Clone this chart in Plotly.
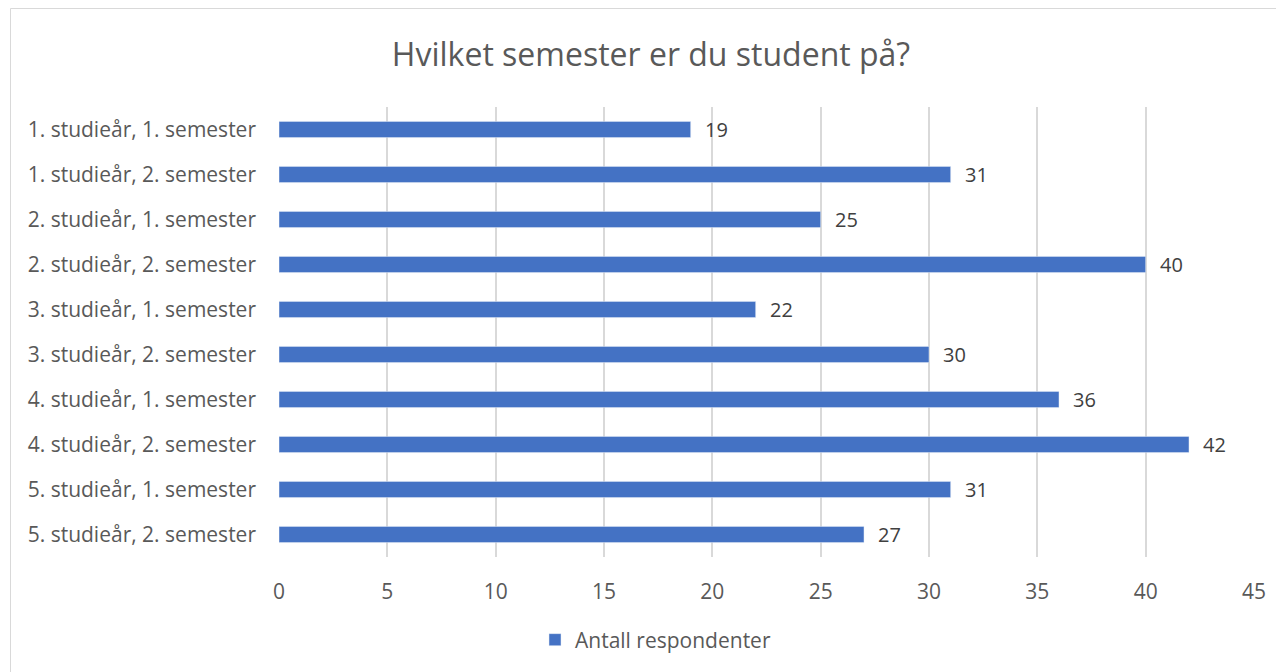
import plotly.graph_objects as go

categories = [
    "1. studieår, 1. semester",
    "1. studieår, 2. semester",
    "2. studieår, 1. semester",
    "2. studieår, 2. semester",
    "3. studieår, 1. semester",
    "3. studieår, 2. semester",
    "4. studieår, 1. semester",
    "4. studieår, 2. semester",
    "5. studieår, 1. semester",
    "5. studieår, 2. semester",
]
values = [19, 31, 25, 40, 22, 30, 36, 42, 31, 27]
series_name = "Antall respondenter"
x_ticks = [0, 5, 10, 15, 20, 25, 30, 35, 40, 45]

OFF = 8  # page body margin
W, H = 1284 - OFF, 672 - OFF
# plot area in screen pixels
SL, SR, ST, SB = 279, 1254, 107, 557
L, R, T, B = SL - OFF, SR - OFF, ST - OFF, SB - OFF
FONT = "Open Sans"
TXT = "#595959"

def px(sx):
    return (sx - OFF - L) / (R - L)

def py(sy):
    return (B - (sy - OFF)) / (B - T)

fig = go.Figure()
fig.add_trace(go.Bar(
    y=categories, x=values, orientation="h", name=series_name,
    marker=dict(color="#4472C4"),
))

for c, v in zip(categories, values):
    fig.add_annotation(x=v, y=c, xref="x", yref="y", text=str(v), showarrow=False,
                       xanchor="left", yanchor="middle", xshift=12,
                       font=dict(family=FONT, size=20, color="#404040"))

fig.update_layout(
    width=W, height=H,
    margin=dict(l=L, r=W - R, t=T, b=H - B, autoexpand=False),
    paper_bgcolor="white", plot_bgcolor="white",
    bargap=0.64,
    showlegend=True,
    title=dict(text="Hvilket semester er du student på?", x=(651 - OFF) / W, xref="container",
               xanchor="center", y=1 - (55 - OFF) / H, yref="container", yanchor="middle",
               font=dict(family=FONT, size=32, color=TXT)),
    legend=dict(orientation="h", x=px(535), xanchor="left", y=py(640), yanchor="middle",
                font=dict(family=FONT, size=21, color=TXT)),
    xaxis=dict(range=[0, 45], tickvals=x_ticks, showgrid=True, gridcolor="#d9d9d9", gridwidth=2,
               zeroline=False, showline=False, ticks="", ticklabelstandoff=20,
               tickfont=dict(family=FONT, size=21, color=TXT)),
    yaxis=dict(autorange="reversed", showgrid=False, zeroline=False, showline=False, ticks="",
               ticklabelstandoff=22,
               tickfont=dict(family=FONT, size=21, color=TXT)),
    shapes=[dict(type="rect", xref="paper", yref="paper",
                 x0=px(10.5), x1=px(1320), y0=py(700), y1=py(8.5),
                 line=dict(color="#d9d9d9", width=1), layer="below")],
)

fig.write_html("out.html")
